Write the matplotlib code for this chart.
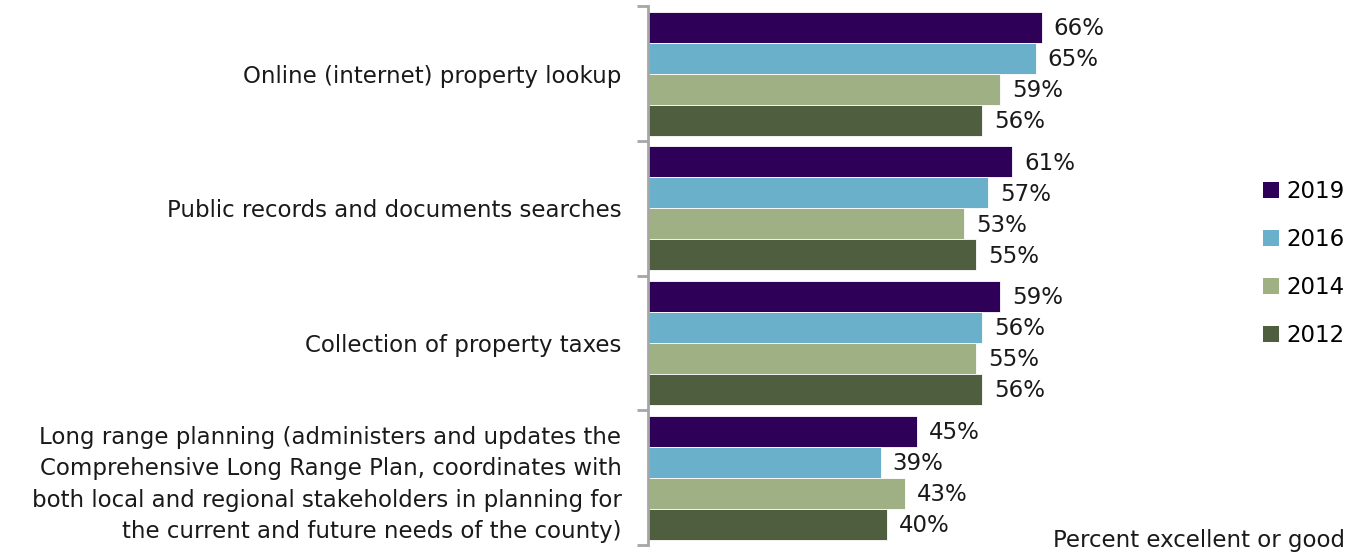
import matplotlib
matplotlib.use('Agg')
import matplotlib.pyplot as plt
from matplotlib.patches import Patch
import numpy as np

plt.rcParams['font.family'] = ['DejaVu Sans']

categories = ['Online (internet) property lookup',
              'Public records and documents searches',
              'Collection of property taxes',
              'Long range planning (administers and updates the\nComprehensive Long Range Plan, coordinates with\nboth local and regional stakeholders in planning for\nthe current and future needs of the county)']
years = ['2019', '2016', '2014', '2012']
v2019 = [66, 61, 59, 45]
v2016 = [65, 57, 56, 39]
v2014 = [59, 53, 55, 43]
v2012 = [56, 55, 56, 40]
series = [v2019, v2016, v2014, v2012]
colors = ['#2E0058', '#6AB0CA', '#9FB084', '#4F5E3F']

fs = 16.5
fig = plt.figure(figsize=(13.61, 5.56), dpi=100)
ax = fig.add_axes([0.476, 0.0198, 0.4387, 0.969])

y = np.arange(len(categories))
h = 0.23
for i, vals in enumerate(series):
    pos = y + (i - 1.5) * h
    ax.barh(pos, vals, height=h, color=colors[i], edgecolor='white', linewidth=0.6)
    for p, v in zip(pos, vals):
        ax.text(v + 2.0, p + 0.01, f'{v}%', va='center', ha='left', fontsize=fs, color='#1a1a1a')

ax.set_xlim(0, 100)
ax.set_ylim(3.5, -0.5)
ax.set_yticks(y)
ax.set_yticklabels(categories, fontsize=fs, color='#1a1a1a', linespacing=1.48)
ax.set_yticks(np.arange(-0.5, 4, 1), minor=True)
ax.tick_params(axis='y', which='major', length=0, pad=19)
ax.tick_params(axis='y', which='minor', length=8, width=2, color='#a6a6a6', direction='out')
ax.set_xticks([])
for s in ['top', 'right', 'bottom']:
    ax.spines[s].set_visible(False)
ax.spines['left'].set_color('#a6a6a6')
ax.spines['left'].set_linewidth(2)

handles = [Patch(facecolor=c, label=l) for c, l in zip(colors, years)]
fig.legend(handles=handles, loc='center left', bbox_to_anchor=(0.913, 0.526), frameon=False,
           fontsize=fs, handlelength=0.7, handleheight=0.7, handletextpad=0.3, labelspacing=1.1)

fig.text(0.988, 0.028, 'Percent excellent or good', ha='right', va='center', fontsize=fs, color='#1a1a1a')

fig.savefig('out.png', dpi=100)
